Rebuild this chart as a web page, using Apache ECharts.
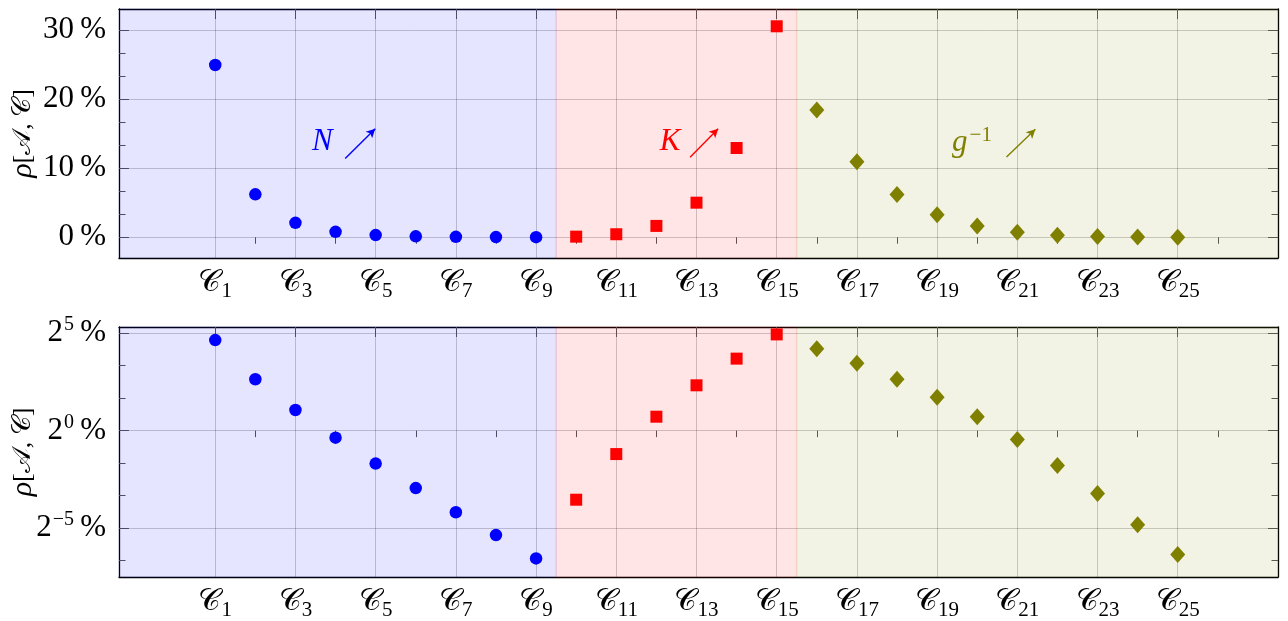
<!DOCTYPE html>
<html><head><meta charset="utf-8">
<script src="https://cdn.jsdelivr.net/npm/echarts@6/dist/echarts.min.js"></script>
<style>html,body{margin:0;padding:0;background:#fff}#c{width:1288px;height:621px}</style>
</head><body><div id="c"></div>
<script>
// ---------- data ----------
const blueX = [1, 2, 3, 4, 5, 6, 7, 8, 9];
const blueVals = [24.9, 6.2, 2.08, 0.78, 0.31, 0.13, 0.055, 0.0245, 0.0107];
const redX = [10, 11, 12, 13, 14, 15];
const redVals = [0.086, 0.435, 1.64, 5.0, 12.9, 30.5];
const oliveX = [16, 17, 18, 19, 20, 21, 22, 23, 24, 25];
const oliveVals = [18.4, 10.9, 6.19, 3.26, 1.63, 0.727, 0.29, 0.107, 0.0354, 0.0123];

const xLabelTicks = [1, 3, 5, 7, 9, 11, 13, 15, 17, 19, 21, 23, 25];
const xMinorTicks = [2, 4, 6, 8, 10, 12, 14, 16, 18, 20, 22, 24, 26];
const linTicks = [0, 10, 20, 30];
const linMinorTicks = [3.333, 6.667, 13.333, 16.667, 23.333, 26.667];
const logExpTicks = [-5, 0, 5];
const logExpMinorTicks = [-6.667, -3.333, -1.667, 1.667, 3.333];
const regionEdges = [9.5, 15.5];

// annotations (top panel, data coordinates)
const annotTexts = ['N', 'K', 'g'];
const annotX = [3.67, 12.34, 19.87];
const annotY = [13.85, 13.85, 13.6];
const arrowFromX = [4.24, 12.84, 20.73];
const arrowFromY = [11.4, 11.55, 11.6];
const arrowToX = [4.99, 13.54, 21.45];
const arrowToY = [15.7, 15.7, 15.6];

// ---------- layout / style ----------
const X_MIN = -1.4, X_MAX = 27.5;
const LIN_MIN = -3, LIN_MAX = 33;
const EXP_MIN = -7.5, EXP_MAX = 5.31;
const SERIF = '"Liberation Serif", "DejaVu Serif", serif';
const BLUE = '#0000FF', RED = '#FF0000', OLIVE = '#808000';
const GRIDC = 'rgba(0,0,0,0.2)';
const MAJ = 10, MIN = 6.5;

const grids = [
  {left: 119, right: 10, top: 9, height: 249},
  {left: 119, right: 10, top: 327, height: 250}
];

function xAxes(g) {
  return [
    { gridIndex: g, type: 'value', min: X_MIN, max: X_MAX, position: 'bottom',
      axisLine: {show: true, onZero: false, lineStyle: {color: '#000', width: 1.3}},
      axisTick: {show: false, customValues: xLabelTicks},
      axisLabel: {show: true, customValues: xLabelTicks, margin: 6,
        formatter: v => '{c|𝒞}{s|' + v + '}',
        rich: {
          c: {fontFamily: SERIF, fontSize: 31, color: '#000', lineHeight: 38},
          s: {fontFamily: SERIF, fontSize: 21, color: '#000', lineHeight: 38, padding: [16, 0, 0, 0]}
        }},
      splitLine: {show: true, lineStyle: {color: GRIDC, width: 1}} },
    { gridIndex: g, type: 'value', min: X_MIN, max: X_MAX, position: 'top',
      axisLine: {show: true, onZero: false, lineStyle: {color: '#000', width: 1.3}},
      axisTick: {show: true, inside: true, length: MAJ, customValues: xLabelTicks, lineStyle: {color: '#555', width: 1}},
      axisLabel: {show: false}, splitLine: {show: false} },
    { gridIndex: g, type: 'value', min: X_MIN, max: X_MAX, position: 'top',
      axisLine: {show: false},
      axisTick: {show: true, inside: true, length: MIN, customValues: xMinorTicks, lineStyle: {color: '#555', width: 1}},
      axisLabel: {show: false}, splitLine: {show: false} }
  ];
}

function tickAxis(g, min, max, pos, vals, len, line) {
  return { gridIndex: g, type: 'value', min: min, max: max, position: pos,
    axisLine: {show: line, onZero: false, lineStyle: {color: '#000', width: 1.3}},
    axisTick: {show: true, inside: true, length: len, customValues: vals, lineStyle: {color: '#555', width: 1}},
    axisLabel: {show: false}, splitLine: {show: false} };
}

const yName = {
  name: '{i|ρ}{r|[𝒜, 𝒞]}',
  nameLocation: 'middle', nameRotate: 90, nameGap: 81, nameMoveOverlap: false,
  nameTextStyle: {rich: {
    i: {fontFamily: SERIF, fontStyle: 'italic', fontSize: 30, color: '#000'},
    r: {fontFamily: SERIF, fontSize: 26, color: '#000'}
  }}
};

const yAxes = [
  Object.assign({ gridIndex: 0, type: 'value', min: LIN_MIN, max: LIN_MAX, position: 'left',
    axisLine: {show: true, onZero: false, lineStyle: {color: '#000', width: 1.3}},
    axisTick: {show: true, inside: true, length: MAJ, customValues: linTicks, lineStyle: {color: '#555', width: 1}},
    axisLabel: {show: true, customValues: linTicks, margin: 13, fontFamily: SERIF, fontSize: 31, color: '#000',
      formatter: v => v + '\u2009%'},
    splitLine: {show: true, lineStyle: {color: GRIDC, width: 1}} }, yName),
  tickAxis(0, LIN_MIN, LIN_MAX, 'right', linTicks, MAJ, true),
  tickAxis(0, LIN_MIN, LIN_MAX, 'left', linMinorTicks, MIN, false),
  tickAxis(0, LIN_MIN, LIN_MAX, 'right', linMinorTicks, MIN, false),
  { gridIndex: 1, type: 'log', logBase: 2, min: Math.pow(2, EXP_MIN), max: Math.pow(2, EXP_MAX), show: false,
    position: 'left', axisLabel: {show: false}, splitLine: {show: false}, axisTick: {show: false}, axisLine: {show: false} },
  Object.assign({ gridIndex: 1, type: 'value', min: EXP_MIN, max: EXP_MAX, position: 'left',
    axisLine: {show: true, onZero: false, lineStyle: {color: '#000', width: 1.3}},
    axisTick: {show: true, inside: true, length: MAJ, customValues: logExpTicks, lineStyle: {color: '#555', width: 1}},
    axisLabel: {show: true, customValues: logExpTicks, margin: 13,
      formatter: v => '{b|2}{e|' + String(v).replace('-', '−') + '}{b|\u2009%}',
      rich: {
        b: {fontFamily: SERIF, fontSize: 31, color: '#000', lineHeight: 36},
        e: {fontFamily: SERIF, fontSize: 20, color: '#000', lineHeight: 36, padding: [0, 0, 16, 1]}
      }},
    splitLine: {show: true, lineStyle: {color: GRIDC, width: 1}} }, yName),
  tickAxis(1, EXP_MIN, EXP_MAX, 'right', logExpTicks, MAJ, true),
  tickAxis(1, EXP_MIN, EXP_MAX, 'left', logExpMinorTicks, MIN, false),
  tickAxis(1, EXP_MIN, EXP_MAX, 'right', logExpMinorTicks, MIN, false)
];

const regions = [
  {from: X_MIN, to: regionEdges[0], color: 'rgba(0,0,255,0.1)'},
  {from: regionEdges[0], to: regionEdges[1], color: 'rgba(255,0,0,0.1)'},
  {from: regionEdges[1], to: X_MAX, color: 'rgba(128,128,0,0.1)'}
];
function markArea() {
  return { silent: true,
    data: regions.map(r => [{xAxis: r.from, itemStyle: {color: r.color, borderColor: r.color, borderWidth: 1}}, {xAxis: r.to}]) };
}

function annotLabel(i, color) {
  const main = annotTexts[i] === 'g' ? '{t|g}{e|−1}' : '{t|' + annotTexts[i] + '}';
  return { silent: true, symbol: 'circle', symbolSize: 0,
    data: [{coord: [annotX[i], annotY[i]],
      label: {show: true, position: 'inside', formatter: main,
        rich: {
          t: {fontFamily: SERIF, fontStyle: 'italic', fontSize: 31, color: color, lineHeight: 40},
          e: {fontFamily: SERIF, fontSize: 21, color: color, lineHeight: 40, padding: [0, 0, 16, 2]}
        }}}] };
}
function annotArrow(i, color) {
  return { silent: true, symbol: ['none', 'arrow'], symbolSize: [7, 9],
    lineStyle: {color: color, width: 1.4, type: 'solid'}, label: {show: false},
    data: [[{coord: [arrowFromX[i], arrowFromY[i]]}, {coord: [arrowToX[i], arrowToY[i]]}]] };
}

function pts(xs, vs) { return xs.map((x, i) => [x, vs[i]]); }

const series = [];
[0, 1].forEach(g => {
  const xi = g * 3, yi = g === 0 ? 0 : 4;
  const top = g === 0;
  series.push({ type: 'scatter', xAxisIndex: xi, yAxisIndex: yi, symbol: 'circle', symbolSize: 12.5,
    itemStyle: {color: BLUE, opacity: 1}, data: pts(blueX, blueVals), z: 5, markArea: markArea(),
    markPoint: top ? annotLabel(0, BLUE) : undefined, markLine: top ? annotArrow(0, BLUE) : undefined });
  series.push({ type: 'scatter', xAxisIndex: xi, yAxisIndex: yi, symbol: 'rect', symbolSize: 12,
    itemStyle: {color: RED, opacity: 1}, data: pts(redX, redVals), z: 5,
    markPoint: top ? annotLabel(1, RED) : undefined, markLine: top ? annotArrow(1, RED) : undefined });
  series.push({ type: 'scatter', xAxisIndex: xi, yAxisIndex: yi, symbol: 'diamond', symbolSize: [15, 17],
    itemStyle: {color: OLIVE, opacity: 1}, data: pts(oliveX, oliveVals), z: 5,
    markPoint: top ? annotLabel(2, OLIVE) : undefined, markLine: top ? annotArrow(2, OLIVE) : undefined });
});

const chart = echarts.init(document.getElementById('c'), null, {renderer: 'canvas'});
chart.setOption({
  animation: false,
  backgroundColor: '#fff',
  grid: grids.map(g => Object.assign({outerBoundsMode: 'none', containLabel: false}, g)),
  xAxis: [].concat(xAxes(0), xAxes(1)),
  yAxis: yAxes,
  series: series
});
</script></body></html>
